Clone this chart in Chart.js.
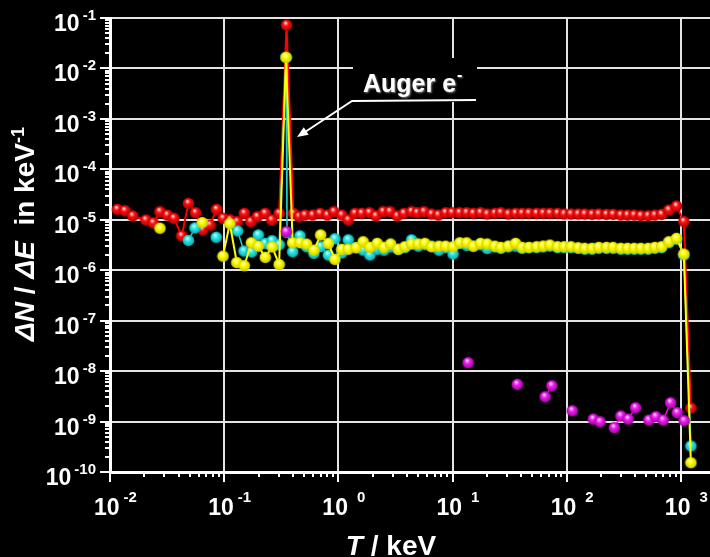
<!DOCTYPE html>
<html>
<head>
<meta charset="utf-8">
<script src="https://cdn.jsdelivr.net/npm/chart.js@4.4.1/dist/chart.umd.min.js"></script>
<style>
  html, body { margin: 0; padding: 0; background: #000; }
  #wrap { width: 710px; height: 557px; }
</style>
</head>
<body>
<div id="wrap"><canvas id="spectrum" width="710" height="557"></canvas></div>
<script>
const FONT = '"Liberation Sans", Arial, sans-serif';

// energy bins (keV) and dN/dE (1/keV); null = gap in the curve
const redT = [0.0116, 0.0135, 0.0158, 0.0206, 0.0239, 0.0274, 0.0318, 0.0363, 0.0425, 0.0486,
  0.0562, 0.0649, 0.0752, 0.0859, 0.098, 0.113, 0.130, 0.150, 0.171, 0.195,
  0.228, 0.261, 0.303, 0.352, 0.403, 0.453, 0.51, 0.596, 0.690, 0.800,
  0.914, 1.07, 1.22, 1.40, 1.60, 1.87, 2.13, 2.47, 2.83, 3.28,
  3.75, 4.38, 4.91, 5.62, 6.56, 7.50, 8.71, 9.9, 11.5, 13.3,
  15.2, 17.6, 20.1, 23.5, 26.5, 30.8, 35.7, 40.7, 46.7, 54.5,
  62.2, 71.3, 83.2, 95.1, 109, 126, 144, 167, 191, 223,
  255, 298, 341, 390, 447, 517, 592, 678, 785, 916,
  1062, 1224];
const redY = [1.61e-5, 1.51e-5, 1.19e-5, 9.9e-6, 8.7e-6, 1.45e-5, 1.24e-5, 1.07e-5, 4.8e-6, 2.12e-5,
  1.38e-5, 6.3e-6, 7.9e-6, 1.61e-5, 1.07e-5, 9.9e-6, 9.2e-6, 1.34e-5, 9.2e-6, 1.15e-5,
  1.34e-5, 9.9e-6, 1.34e-5, 0.0726, 1.34e-5, 1.15e-5, 1.24e-5, 1.24e-5, 1.34e-5, 1.24e-5,
  1.45e-5, 1.24e-5, 9.9e-6, 1.34e-5, 1.34e-5, 1.38e-5, 1.19e-5, 1.45e-5, 1.45e-5, 1.19e-5,
  1.34e-5, 1.45e-5, 1.38e-5, 1.45e-5, 1.30e-5, 1.24e-5, 1.38e-5, 1.38e-5, 1.38e-5, 1.38e-5,
  1.34e-5, 1.38e-5, 1.30e-5, 1.34e-5, 1.38e-5, 1.30e-5, 1.34e-5, 1.34e-5, 1.34e-5, 1.34e-5,
  1.34e-5, 1.34e-5, 1.34e-5, 1.30e-5, 1.30e-5, 1.30e-5, 1.30e-5, 1.28e-5, 1.30e-5, 1.28e-5,
  1.28e-5, 1.24e-5, 1.24e-5, 1.24e-5, 1.20e-5, 1.20e-5, 1.24e-5, 1.28e-5, 1.56e-5, 1.87e-5,
  9.2e-6, 1.85e-9];

const yellowT = [0.0274, null, 0.0643, null, 0.0976, 0.112, 0.129, 0.150, 0.173, 0.199,
  0.229, 0.263, 0.303, 0.348, 0.398, 0.461, 0.527, 0.611, 0.700, 0.817,
  0.933, 1.07, 1.22, 1.43, 1.65, 1.89, 2.19, 2.51, 2.87, 3.35,
  3.83, 4.38, 5.01, 5.73, 6.56, 7.60, 8.71, 10.1, 11.6, 13.3,
  15.2, 17.6, 20.1, 23.5, 26.5, 30.8, 35.7, 40.7, 46.7, 54.5,
  62.2, 71.3, 83.2, 95.1, 109, 126, 144, 167, 191, 223,
  255, 298, 341, 390, 447, 517, 592, 678, 785, 916,
  1062, 1224];
const yellowY = [6.8e-6, null, 8.8e-6, null, 1.9e-6, 8.4e-6, 1.42e-6, 1.23e-6, 3.5e-6, 3.0e-6,
  1.8e-6, 2.9e-6, 1.3e-6, 0.0166, 3.5e-6, 3.5e-6, 3.3e-6, 2.5e-6, 5.0e-6, 3.4e-6,
  1.64e-6, 2.6e-6, 2.6e-6, 2.8e-6, 3.67e-6, 2.84e-6, 3.41e-6, 2.84e-6, 3.31e-6, 2.6e-6,
  2.92e-6, 3.31e-6, 3.31e-6, 3.41e-6, 2.92e-6, 3.0e-6, 3.0e-6, 2.92e-6, 3.5e-6, 3.5e-6,
  3.0e-6, 3.41e-6, 3.31e-6, 3.0e-6, 2.84e-6, 3.02e-6, 3.41e-6, 2.84e-6, 2.84e-6, 2.92e-6,
  3.02e-6, 3.16e-6, 2.92e-6, 2.92e-6, 2.92e-6, 2.79e-6, 2.72e-6, 2.72e-6, 2.84e-6, 2.84e-6,
  2.84e-6, 2.72e-6, 2.72e-6, 2.72e-6, 2.72e-6, 2.72e-6, 2.84e-6, 2.92e-6, 3.67e-6, 4.29e-6,
  2.09e-6, 1.53e-10];

const cyanT = [0.0486, 0.0555, null, 0.0852, null, 0.131, 0.149, 0.174, 0.199, 0.229,
  0.263, 0.303, 0.348, 0.355, 0.398, 0.461, 0.527, 0.611, 0.700, 0.817,
  0.933, 1.07, 1.22, 1.43, 1.65, 1.89, 2.19, 2.51, 2.87, 3.35,
  3.83, 4.38, 5.01, 5.73, 6.56, 7.60, 8.71, 10.1, 11.6, 13.3,
  15.2, 17.6, 20.1, 23.5, 26.5, 30.8, 35.7, 40.7, 46.7, 54.5,
  62.2, 71.3, 83.2, 95.1, 109, 126, 144, 167, 191, 223,
  255, 298, 341, 390, 447, 517, 592, 678, 785, 916,
  1062, 1224];
const cyanY = [3.9e-6, 6.9e-6, null, 4.5e-6, null, 6.0e-6, 2.4e-6, 2.3e-6, 5.0e-6, 3.4e-6,
  3.85e-6, 3.2e-6, 0.0166, 5.6e-6, 2.33e-6, 4.8e-6, 2.92e-6, 2.16e-6, 2.92e-6, 2.0e-6,
  4.2e-6, 2.2e-6, 4.0e-6, 2.8e-6, 2.5e-6, 2.0e-6, 2.6e-6, 2.5e-6, 2.9e-6, 2.6e-6,
  2.8e-6, 4.0e-6, 3.0e-6, 3.2e-6, 3.0e-6, 2.5e-6, 2.8e-6, 2.1e-6, 3.4e-6, 3.1e-6,
  3.0e-6, 3.2e-6, 2.7e-6, 2.9e-6, 2.7e-6, 2.9e-6, 3.0e-6, 2.7e-6, 2.8e-6, 2.8e-6,
  2.9e-6, 3.0e-6, 2.8e-6, 2.8e-6, 2.8e-6, 2.7e-6, 2.6e-6, 2.6e-6, 2.7e-6, 2.7e-6,
  2.7e-6, 2.6e-6, 2.6e-6, 2.6e-6, 2.6e-6, 2.6e-6, 2.7e-6, 2.8e-6, 3.5e-6, 4.1e-6,
  2.0e-6, 3.27e-10];

const magentaT = [0.35, null, 13.7, null, 36.9, null, 64.8, 74.1, null, 112,
  null, 171, 196, null, 261, 298, 346, 401, null, 525,
  604, 700, 813, 929, 1069];
const magentaY = [5.8e-6, null, 1.47e-8, null, 5.47e-9, null, 3.10e-9, 5.13e-9, null, 1.64e-9,
  null, 1.12e-9, 9.9e-10, null, 7.55e-10, 1.29e-9, 1.12e-9, 1.88e-9, null, 1.07e-9,
  1.25e-9, 1.07e-9, 2.36e-9, 1.50e-9, 1.04e-9];

// axis decades and their exponent labels
const xTicks = [1e-2, 1e-1, 1e0, 1e1, 1e2, 1e3];
const xExp = ['-2', '-1', '0', '1', '2', '3'];
const yTicks = [1e-10, 1e-9, 1e-8, 1e-7, 1e-6, 1e-5, 1e-4, 1e-3, 1e-2, 1e-1];
const yExp = ['-10', '-9', '-8', '-7', '-6', '-5', '-4', '-3', '-2', '-1'];

function pairs(T, Y) {
    return T.map((t, i) => ({ x: t, y: Y[i] }));
}

// shaded sphere marker
function ball(base, light, dark) {
    const r = 6;
    const c = document.createElement('canvas');
    c.width = 2 * r + 1;
    c.height = 2 * r + 1;
    const g = c.getContext('2d');
    const cx = r + 0.5, cy = r + 0.5;
    const grad = g.createRadialGradient(cx - 1.2, cy - 2.4, 0.3, cx, cy, r);
    grad.addColorStop(0, light);
    grad.addColorStop(0.38, base);
    grad.addColorStop(1, dark);
    g.fillStyle = grad;
    g.beginPath();
    g.arc(cx, cy, r - 0.2, 0, Math.PI * 2);
    g.fill();
    return c;
}

// draw a run of text pieces with mixed styles, centred on x
function richText(ctx, parts, x, y) {
    let total = 0;
    parts.forEach(p => { ctx.font = p.font; p.w = ctx.measureText(p.text).width; total += p.w; });
    let cx = x - total / 2;
    parts.forEach(p => {
        ctx.font = p.font;
        ctx.fillText(p.text, cx, y - (p.raise || 0));
        cx += p.w;
    });
}

const axisDecor = {
    id: 'axisDecor',
    afterDraw(chart) {
        const ctx = chart.ctx;
        const xs = chart.scales.x, ys = chart.scales.y;
        const area = chart.chartArea;
        ctx.save();
        ctx.strokeStyle = '#fff';
        ctx.fillStyle = '#fff';
        ctx.lineWidth = 2;

        // outward ticks, major and minor
        ctx.beginPath();
        for (let n = -2; n <= 3; n++) {
            for (let k = 1; k <= 9; k++) {
                const v = k * Math.pow(10, n);
                if (v > xs.max) continue;
                const px = Math.round(xs.getPixelForValue(v));
                ctx.moveTo(px, area.bottom);
                ctx.lineTo(px, area.bottom + (k === 1 ? 10 : 5));
            }
        }
        for (let n = -10; n <= -1; n++) {
            for (let k = 1; k <= 9; k++) {
                const v = k * Math.pow(10, n);
                if (v > ys.max * 1.0001) continue;
                const py = Math.round(ys.getPixelForValue(v));
                ctx.moveTo(area.left, py);
                ctx.lineTo(area.left - (k === 1 ? 10 : 5), py);
            }
        }
        ctx.stroke();

        // x tick labels
        ctx.textBaseline = 'alphabetic';
        ctx.textAlign = 'left';
        xTicks.forEach((v, i) => {
            const px = xs.getPixelForValue(v);
            ctx.font = 'bold 23px ' + FONT;
            const left = px - 16;
            ctx.fillText('10', left, 515);
            const w = ctx.measureText('10').width;
            const gap = xExp[i].startsWith('-') ? 4 : 9;
            ctx.font = 'bold 15px ' + FONT;
            ctx.fillText(xExp[i], left + w + gap, 502);
        });

        // y tick labels
        yTicks.forEach((v, i) => {
            const py = ys.getPixelForValue(v);
            ctx.font = 'bold 15px ' + FONT;
            const we = ctx.measureText(yExp[i]).width;
            const expLeft = 96 - we;
            ctx.fillText(yExp[i], expLeft, py + 2);
            ctx.font = 'bold 23px ' + FONT;
            const wb = ctx.measureText('10').width;
            ctx.fillText('10', expLeft - 3 - wb, py + 13);
        });

        // x title
        richText(ctx, [
            { text: 'T', font: 'italic bold 28px ' + FONT },
            { text: ' / keV', font: 'bold 28px ' + FONT }
        ], 391, 555);

        // y title
        ctx.save();
        ctx.translate(34, 234);
        ctx.rotate(-Math.PI / 2);
        richText(ctx, [
            { text: 'ΔN', font: 'italic bold 28px ' + FONT },
            { text: ' / ', font: 'bold 28px ' + FONT },
            { text: 'ΔE', font: 'italic bold 28px ' + FONT },
            { text: '  in keV', font: 'bold 28px ' + FONT },
            { text: '-1', font: 'bold 18px ' + FONT, raise: 10 }
        ], 0, 0);
        ctx.restore();

        // Auger annotation
        ctx.fillStyle = '#000';
        ctx.fillRect(353, 58, 124, 44);
        ctx.fillStyle = '#fff';
        ctx.shadowColor = 'rgba(150,150,150,0.9)';
        ctx.shadowBlur = 2;
        ctx.shadowOffsetX = 1;
        ctx.shadowOffsetY = 1;
        ctx.font = 'bold 25px ' + FONT;
        ctx.fillText('Auger e', 363, 92);
        const wa = ctx.measureText('Auger e').width;
        ctx.font = 'bold 16px ' + FONT;
        ctx.fillText('-', 363 + wa + 1, 80);
        ctx.shadowColor = 'transparent';
        ctx.lineWidth = 2;
        ctx.beginPath();
        ctx.moveTo(476, 100);
        ctx.lineTo(352, 101);
        ctx.lineTo(302, 134);
        ctx.stroke();
        const ang = Math.atan2(137 - 101, 297 - 352);
        ctx.beginPath();
        ctx.moveTo(297, 137);
        ctx.lineTo(297 - 11 * Math.cos(ang) + 4.5 * Math.sin(ang), 137 - 11 * Math.sin(ang) - 4.5 * Math.cos(ang));
        ctx.lineTo(297 - 11 * Math.cos(ang) - 4.5 * Math.sin(ang), 137 - 11 * Math.sin(ang) + 4.5 * Math.cos(ang));
        ctx.closePath();
        ctx.fill();
        ctx.restore();
    }
};

const ctx = document.getElementById('spectrum').getContext('2d');
new Chart(ctx, {
    type: 'scatter',
    data: {
        datasets: [
            {
                label: 'magenta',
                data: pairs(magentaT, magentaY),
                showLine: true,
                spanGaps: false,
                borderColor: '#ff00ff',
                borderWidth: 1.5,
                pointStyle: ball('#f020f0', '#ffe6ff', '#9a009a'),
                pointRadius: 6
            },
            {
                label: 'yellow',
                data: pairs(yellowT, yellowY),
                showLine: true,
                spanGaps: false,
                borderColor: '#ffff00',
                borderWidth: 2,
                pointStyle: ball('#ffff00', '#ffffd0', '#c8c800'),
                pointRadius: 6
            },
            {
                label: 'cyan',
                data: pairs(cyanT, cyanY),
                showLine: true,
                spanGaps: false,
                borderColor: '#20d0d0',
                borderWidth: 1.5,
                pointStyle: ball('#30e8e8', '#d0ffff', '#00a8a8'),
                pointRadius: 6
            },
            {
                label: 'red',
                data: pairs(redT, redY),
                showLine: true,
                spanGaps: false,
                borderColor: '#ff0000',
                borderWidth: 2,
                pointStyle: ball('#ff1010', '#fff0f0', '#b00000'),
                pointRadius: 6
            }
        ]
    },
    options: {
        responsive: false,
        animation: false,
        devicePixelRatio: 1,
        layout: { autoPadding: false, padding: { left: 110, top: 18, right: 0, bottom: 85 } },
        plugins: {
            legend: { display: false },
            tooltip: { enabled: false }
        },
        scales: {
            x: {
                type: 'logarithmic',
                bounds: 'data',
                min: 0.01,
                max: 1800,
                afterBuildTicks: scale => { scale.ticks = xTicks.map(v => ({ value: v })); },
                ticks: { display: false },
                grid: { color: '#e4e4e4', lineWidth: 2, drawTicks: false },
                border: { color: '#ffffff', width: 3 }
            },
            y: {
                type: 'logarithmic',
                bounds: 'data',
                min: 1e-10,
                max: 0.1,
                afterBuildTicks: scale => { scale.ticks = yTicks.map(v => ({ value: v })); },
                ticks: { display: false },
                grid: { color: '#e4e4e4', lineWidth: 2, drawTicks: false },
                border: { color: '#ffffff', width: 3 }
            }
        }
    },
    plugins: [axisDecor]
});
</script>
</body>
</html>
